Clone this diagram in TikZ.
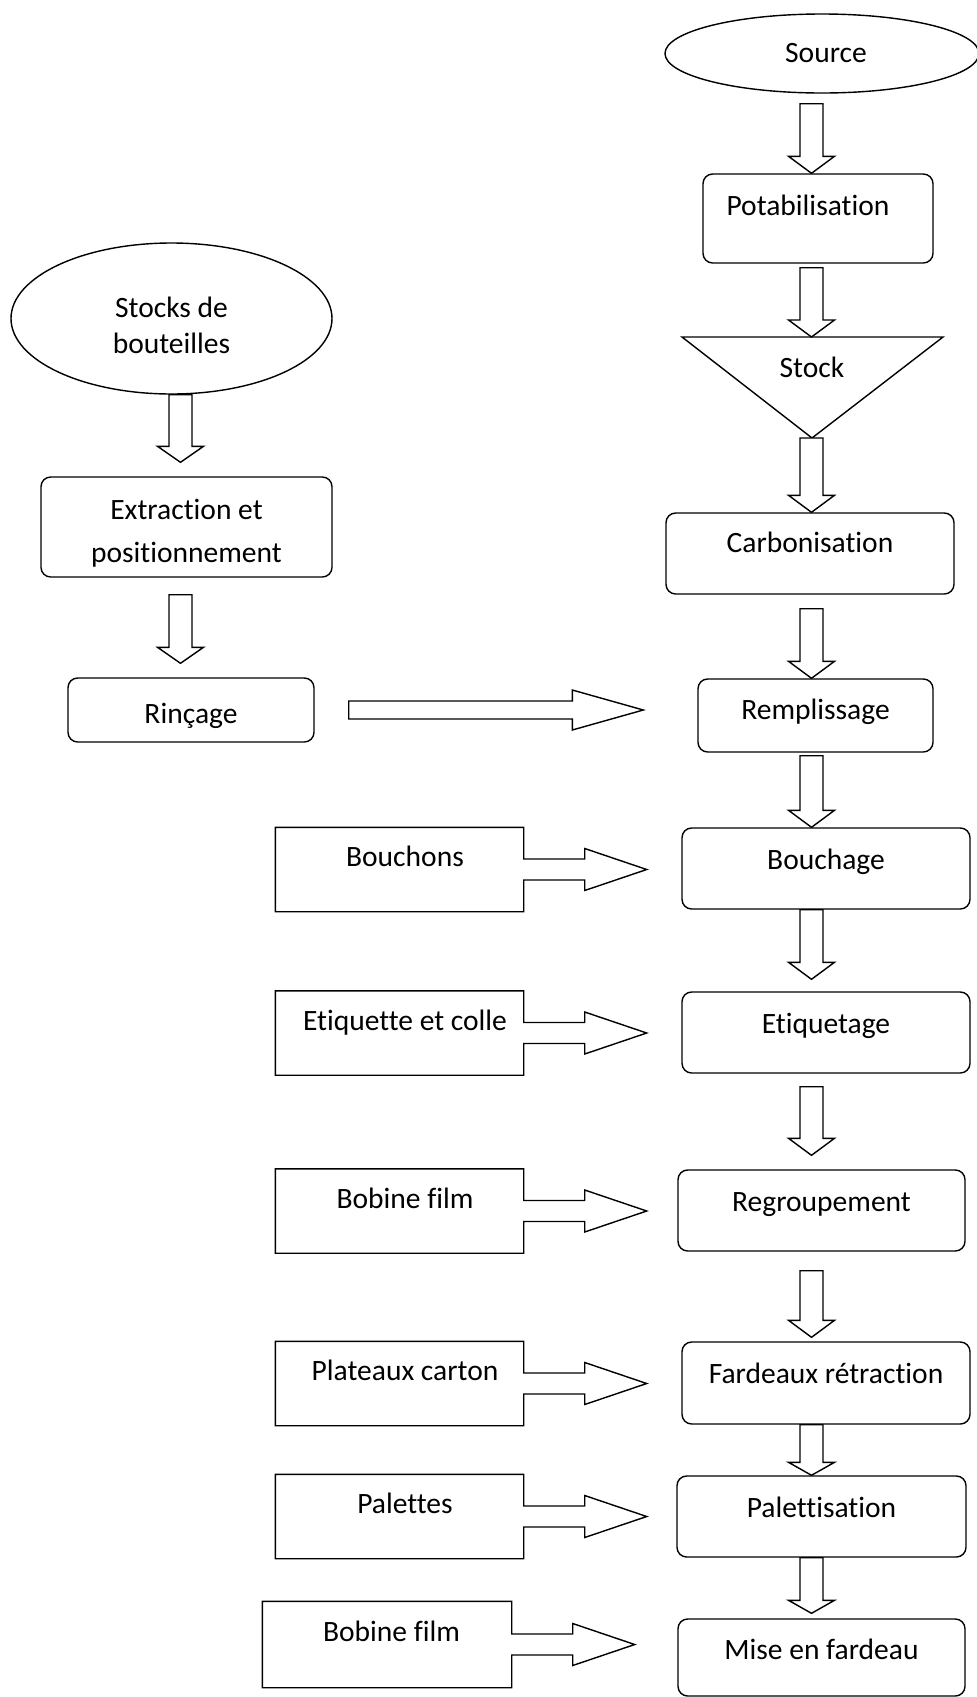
\documentclass[tikz,border=0pt]{standalone}
\usepackage{fontspec}
\setmainfont{Carlito}[Ligatures=CommonOff]
\usepackage{tikz}
\usetikzlibrary{shapes.geometric,calc}

% vertical block arrow: [head length]{spine}{from}{to}{gap at from}{gap at to}
\newcommand{\varrow}[6][0.34]{%
  \draw[blockarrow] ($(#3 -| #2)+(-0.23,-#5)$) -- ($(#4 -| #2)+(-0.23,{#6+#1})$)
    -- ($(#4 -| #2)+(-0.46,{#6+#1})$) -- ($(#4 -| #2)+(0,#6)$)
    -- ($(#4 -| #2)+(0.46,{#6+#1})$) -- ($(#4 -| #2)+(0.23,{#6+#1})$)
    -- ($(#3 -| #2)+(0.23,-#5)$) -- cycle;}
% supply box with its arrow
\newcommand{\feed}[1]{%
  \draw[feedline] (#1.south west) -- (#1.north west) -- (#1.north east)
    -- ($(#1.east)+(0,0.21)$) -- ($(#1.east)+(1.22,0.21)$) -- ($(#1.east)+(1.22,0.42)$)
    -- ($(#1.east)+(2.46,0)$)
    -- ($(#1.east)+(1.22,-0.42)$) -- ($(#1.east)+(1.22,-0.21)$) -- ($(#1.east)+(0,-0.21)$)
    -- (#1.south east) -- cycle;}

\begin{document}
\begin{tikzpicture}[
  line width=0.8pt, font=\fontsize{16.8}{20.5}\selectfont,
  box/.style={draw,rounded corners=5.5pt},
  proc/.style={box,minimum width=5.76cm,minimum height=1.62cm,text height=0.7em,text depth=0.21cm},
  term/.style={draw,ellipse,inner sep=0pt},
  feedbox/.style={minimum width=4.94cm,minimum height=1.66cm,text height=0.7em,text depth=0.36cm},
  blockarrow/.style={draw,fill=white},
  feedline/.style={draw},
]
\useasboundingbox (0,0) rectangle (19.54,-33.94);
\coordinate (spine) at (16.23,0);
\coordinate (lspine) at (3.61,0);

% water line
\node[term,minimum width=6.28cm,minimum height=1.58cm] (source) at (16.44,-1.07) {\hspace*{0.16cm}Source};
\node[proc,minimum width=4.6cm,minimum height=1.78cm,text depth=0.37cm] (potab) at (16.36,-4.37) {Potabilisation\hspace*{0.4cm}};
\coordinate (stocktop) at (16.24,-6.74);
\coordinate (stockapex) at (16.24,-8.76);
\draw (13.64,-6.74) -- (18.86,-6.74) -- (stockapex) -- cycle;
\node (stock) at (16.24,-7.34) {Stock};
\node[proc,text depth=0.29cm] (carbo) at (16.2,-11.07) {Carbonisation};
\node[proc,minimum width=4.7cm,minimum height=1.46cm,text depth=0.07cm] (rempl) at (16.31,-14.31) {Remplissage};
\node[proc] (bouch) at (16.52,-17.37) {Bouchage};
\node[proc] (etiq) at (16.52,-20.65) {Etiquetage};
\node[proc,minimum width=5.74cm] (regroup) at (16.43,-24.21) {Regroupement};
\node[proc,minimum height=1.64cm] (fardeaux) at (16.52,-27.66) {Fardeaux rétraction};
\node[proc,minimum width=5.78cm] (palett) at (16.43,-30.33) {Palettisation};
\node[proc,minimum width=5.74cm,minimum height=1.54cm,text depth=0.17cm] (mise) at (16.43,-33.15) {Mise en fardeau};

% bottle line
\node[term,minimum width=6.42cm,minimum height=3.02cm,align=center] (stocks) at (3.43,-6.37) {\rule{0pt}{0.7cm}Stocks de\\bouteilles};
\node[box,minimum width=5.82cm,minimum height=2cm,align=center] (extract) at (3.73,-10.54) {\rule{0pt}{0.64cm}Extraction et\\[3.9pt]positionnement};
\node[box,minimum width=4.92cm,minimum height=1.28cm,text height=0.7em+0.28cm,text depth=0pt] (rincage) at (3.82,-14.2) {Rinçage};

% supplies
\node[feedbox] (bouchons) at (7.99,-17.39) {\hspace*{0.22cm}Bouchons};
\node[feedbox] (etiquette) at (7.99,-20.66) {\hspace*{0.22cm}Etiquette et colle};
\node[feedbox] (bobine) at (7.99,-24.22) {\hspace*{0.22cm}Bobine film};
\node[feedbox] (plateaux) at (7.99,-27.67) {\hspace*{0.22cm}Plateaux carton};
\node[feedbox] (palettes) at (7.99,-30.33) {\hspace*{0.22cm}Palettes};
\node[feedbox,minimum width=4.96cm,minimum height=1.7cm] (bobine2) at (7.74,-32.89) {\hspace*{0.18cm}Bobine film};
\foreach \f in {bouchons,etiquette,bobine,plateaux,palettes,bobine2} {\feed{\f}}

% arrows
\varrow{spine}{source.south}{potab.north}{0.2}{0}
\varrow{spine}{potab.south}{stocktop}{0.08}{0}
\varrow{spine}{stockapex}{carbo.north}{0}{0}
\varrow{spine}{carbo.south}{rempl.north}{0.28}{0}
\varrow{spine}{rempl.south}{bouch.north}{0.06}{0}
\varrow{spine}{bouch.south}{etiq.north}{0}{0.24}
\varrow{spine}{etiq.south}{regroup.north}{0.26}{0.28}
\varrow{spine}{regroup.south}{fardeaux.north}{0.38}{0.08}
\varrow[0.26]{spine}{fardeaux.south}{palett.north}{0}{0}
\varrow[0.26]{spine}{palett.south}{mise.north}{0}{0.1}
\varrow[0.32]{lspine}{stocks.south}{extract.north}{0}{0.28}
\varrow[0.32]{lspine}{extract.south}{rincage.north}{0.34}{0.28}

\coordinate (rtip) at ($(rempl.west |- rincage.east)+(-1.08,0)$);
\draw[blockarrow] ($(rincage.east)+(0.68,0.18)$) -- ($(rtip)+(-1.42,0.18)$) -- ($(rtip)+(-1.42,0.4)$)
  -- (rtip) -- ($(rtip)+(-1.42,-0.4)$) -- ($(rtip)+(-1.42,-0.18)$) -- ($(rincage.east)+(0.68,-0.18)$) -- cycle;
\end{tikzpicture}
\end{document}
